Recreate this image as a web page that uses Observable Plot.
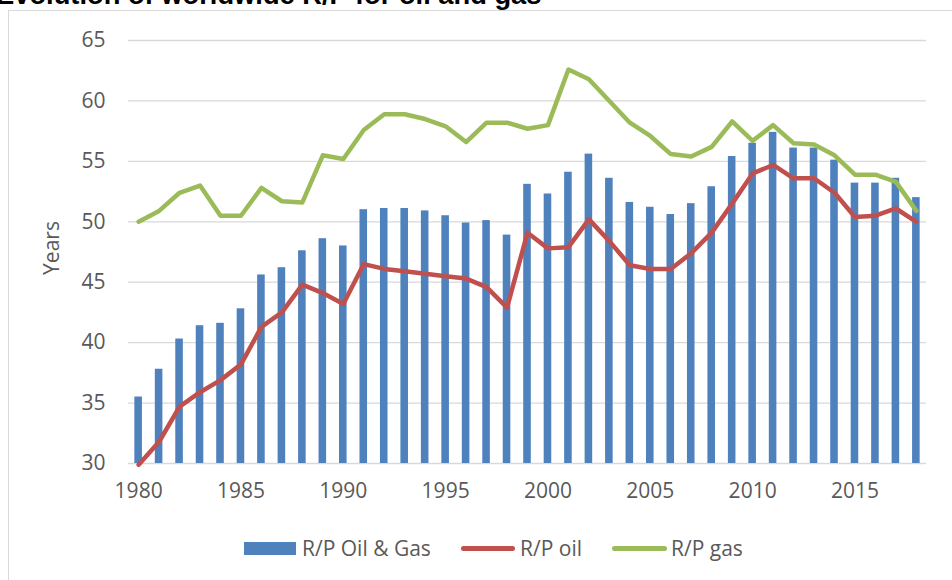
<!DOCTYPE html>
<html>
<head>
<meta charset="utf-8">
<script src="https://cdn.jsdelivr.net/npm/d3@7"></script>
<script src="https://cdn.jsdelivr.net/npm/@observablehq/plot@0.6"></script>
<style>
  html, body { margin: 0; padding: 0; background: #fff; }
  #wrap { position: relative; width: 952px; height: 580px; overflow: hidden; font-family: "Open Sans", sans-serif; }
  #frame { position: absolute; left: 8px; top: 10px; width: 960px; height: 600px; border: 1px solid #d9d9d9; box-sizing: border-box; }
  #title { position: absolute; left: -4px; top: -20px; font-family: "Liberation Sans", Arial, sans-serif; font-weight: bold; font-size: 27.3px; color: #000; white-space: nowrap; line-height: 30px; }
  #chart { position: absolute; left: 0; top: 0; }
  #ylabel { position: absolute; left: 50.5px; top: 248px; transform: translate(-50%, -50%) rotate(-90deg); font-size: 21px; color: #595959; white-space: nowrap; line-height: 24px; }
  .leg { position: absolute; font-size: 21px; color: #595959; line-height: 24px; white-space: nowrap; }
  .sw { position: absolute; }
</style>
</head>
<body>
<div id="wrap">
  <div id="frame"></div>
  <div id="chart"></div>
  <div id="title">Evolution of worldwide R/P for oil and gas</div>
  <div id="ylabel">Years</div>
  <div id="legend"></div>
</div>
<script>
const years = d3.range(1980, 2019);
const rpOilGas = [35.5, 37.8, 40.3, 41.4, 41.6, 42.8, 45.6, 46.2, 47.6, 48.6,
                  48.0, 51.0, 51.1, 51.1, 50.9, 50.5, 49.9, 50.1, 48.9, 53.1,
                  52.3, 54.1, 55.6, 53.6, 51.6, 51.2, 50.6, 51.5, 52.9, 55.4,
                  56.5, 57.4, 56.1, 56.1, 55.1, 53.2, 53.2, 53.6, 52.0];
const rpOil = [29.9, 31.8, 34.7, 35.9, 36.9, 38.2, 41.3, 42.5, 44.8, 44.1,
               43.2, 46.5, 46.1, 45.9, 45.7, 45.5, 45.3, 44.6, 42.9, 49.1,
               47.8, 47.9, 50.2, 48.4, 46.4, 46.1, 46.1, 47.4, 49.1, 51.5,
               54.0, 54.7, 53.6, 53.6, 52.4, 50.4, 50.5, 51.1, 50.0];
const rpGas = [50.0, 50.9, 52.4, 53.0, 50.5, 50.5, 52.8, 51.7, 51.6, 55.5,
               55.2, 57.6, 58.9, 58.9, 58.5, 57.9, 56.6, 58.2, 58.2, 57.7,
               58.0, 62.6, 61.8, 60.0, 58.2, 57.1, 55.6, 55.4, 56.2, 58.3,
               56.7, 58.0, 56.5, 56.4, 55.5, 53.9, 53.9, 53.3, 50.9];
const xTickLabels = [1980, 1985, 1990, 1995, 2000, 2005, 2010, 2015];
const yTicks = [30, 35, 40, 45, 50, 55, 60, 65];
const seriesNames = ["R/P Oil & Gas", "R/P oil", "R/P gas"];
const colors = ["#4f81bd", "#c0504d", "#9bbb59"];

const table = years.map((y, i) => ({year: y, og: rpOilGas[i], oil: rpOil[i], gas: rpGas[i]}));

const chart = Plot.plot({
  width: 952,
  height: 580,
  marginLeft: 128,
  marginRight: 26,
  marginTop: 40,
  marginBottom: 117,
  style: {fontFamily: "'Open Sans', sans-serif", fontSize: "21px", color: "#595959", background: "transparent", overflow: "visible"},
  x: {type: "band", domain: years, round: false, paddingInner: 0.63, paddingOuter: 0.31, ticks: xTickLabels, tickFormat: d => String(d), tickSize: 0, tickPadding: 20, label: null},
  y: {domain: [30, 65], ticks: yTicks, tickSize: 0, tickPadding: 23, label: null, grid: false},
  marks: [
    Plot.ruleY(yTicks, {stroke: "#d9d9d9", strokeWidth: 1.3}),
    Plot.barY(table, {x: "year", y1: 30, y2: "og", fill: colors[0]}),
    Plot.line(table, {x: "year", y: "oil", stroke: colors[1], strokeWidth: 4.5, strokeLinejoin: "round", strokeLinecap: "round"}),
    Plot.line(table, {x: "year", y: "gas", stroke: colors[2], strokeWidth: 4.5, strokeLinejoin: "round", strokeLinecap: "round"})
  ]
});
document.getElementById("chart").appendChild(chart);

// legend
const leg = document.getElementById("legend");
const items = [
  {sw: {left: 244, top: 542, width: 52, height: 13, background: colors[0]}, text: {left: 302}},
  {sw: {left: 461, top: 546, width: 54, height: 5, background: colors[1], borderRadius: "3px"}, text: {left: 520}},
  {sw: {left: 612, top: 546, width: 55, height: 5, background: colors[2], borderRadius: "3px"}, text: {left: 671}}
];
items.forEach((it, i) => {
  const s = document.createElement("div");
  s.className = "sw";
  Object.entries(it.sw).forEach(([k, v]) => s.style[k] = typeof v === "number" ? v + "px" : v);
  leg.appendChild(s);
  const t = document.createElement("div");
  t.className = "leg";
  t.style.left = it.text.left + "px";
  t.style.top = "536px";
  t.textContent = seriesNames[i];
  leg.appendChild(t);
});
</script>
</body>
</html>
